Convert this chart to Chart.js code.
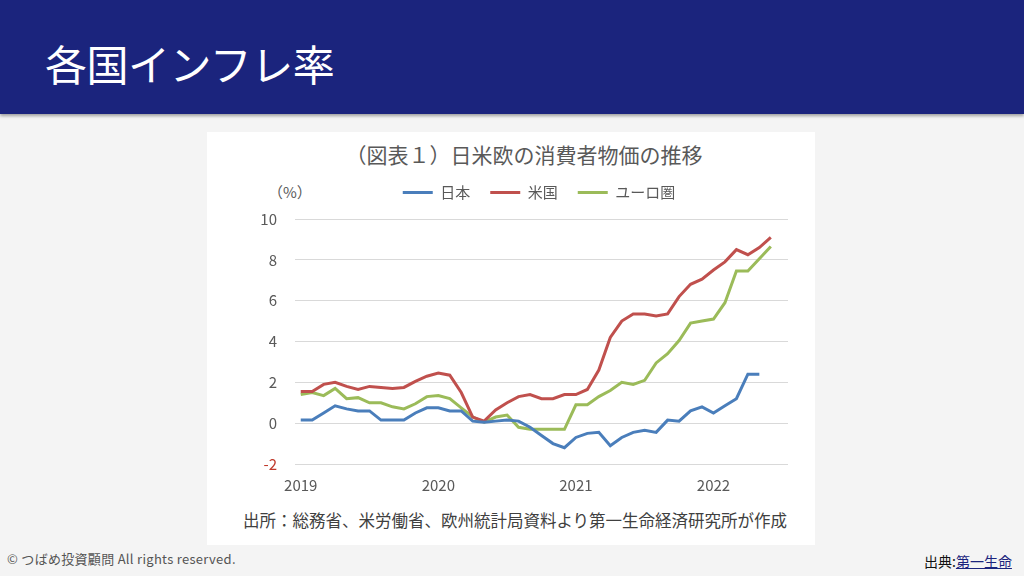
<!DOCTYPE html>
<html lang="ja">
<head>
<meta charset="utf-8">
<script src="https://cdn.jsdelivr.net/npm/chart.js@4.4.1/dist/chart.umd.min.js"></script>
<style>
  html, body { margin: 0; padding: 0; }
  body { width: 1024px; height: 576px; background: #f4f4f4; position: relative; overflow: hidden;
         font-family: "Noto Sans CJK JP", "Noto Sans", sans-serif; }
  #bar { position: absolute; left: 0; top: 0; width: 1024px; height: 114px; background: #1b247d;
         box-shadow: 0 2px 3px rgba(0,0,0,0.35); }
  #bar h1 { position: absolute; left: 45px; top: 42px; margin: 0; font-size: 42px; font-weight: 400;
            color: #fff; line-height: 1; letter-spacing: -0.5px; }
  #card { position: absolute; left: 207px; top: 132px; width: 608px; height: 413px; background: #fff; }
  #ctitle { position: absolute; left: 220px; width: 608px; top: 140px; text-align: center; font-size: 21px;
            color: #595959; line-height: 28px; }
  #unit { position: absolute; left: 268px; top: 181px; font-size: 15px; color: #595959; line-height: 22px; }
  #note { position: absolute; left: 0; width: 1030px; top: 508px; text-align: center; font-size: 16.5px;
          color: #404040; line-height: 24px; }
  #wrap { position: absolute; left: 240px; top: 165px; width: 599px; height: 341px; }
  #copy { position: absolute; left: 7px; top: 550px; font-size: 13px; color: #555; line-height: 18px;
          letter-spacing: 0.3px; }
  #src { position: absolute; left: 924px; top: 551px; font-size: 14px; color: #111; line-height: 20px; }
  #src a { color: #1b247d; text-decoration: underline; }
</style>
</head>
<body>
<div id="bar"><h1>各国インフレ率</h1></div>
<div id="card"></div>
<div id="ctitle">（図表１）日米欧の消費者物価の推移</div>
<div id="unit">（%）</div>
<div id="wrap"><canvas id="c"></canvas></div>
<div id="note">出所：総務省、米労働省、欧州統計局資料より第一生命経済研究所が作成</div>
<div id="copy">© つばめ投資顧問 All rights reserved.</div>
<div id="src">出典:<a>第一生命</a></div>
<script>
// Monthly categories Jan 2019 - Jul 2022
const months = [
  '2019/1','2019/2','2019/3','2019/4','2019/5','2019/6','2019/7','2019/8','2019/9','2019/10','2019/11','2019/12',
  '2020/1','2020/2','2020/3','2020/4','2020/5','2020/6','2020/7','2020/8','2020/9','2020/10','2020/11','2020/12',
  '2021/1','2021/2','2021/3','2021/4','2021/5','2021/6','2021/7','2021/8','2021/9','2021/10','2021/11','2021/12',
  '2022/1','2022/2','2022/3','2022/4','2022/5','2022/6','2022/7'
];
const seriesNames = ['日本', '米国', 'ユーロ圏'];
const japan = [
  0.15, 0.15, 0.5, 0.85, 0.7, 0.6, 0.6, 0.15, 0.15, 0.15, 0.5, 0.75,
  0.75, 0.6, 0.6, 0.1, 0.05, 0.1, 0.15, 0.1, -0.2, -0.6, -1.0, -1.2,
  -0.7, -0.5, -0.45, -1.1, -0.7, -0.45, -0.35, -0.45, 0.15, 0.1, 0.6, 0.8,
  0.5, 0.85, 1.2, 2.4, 2.4, null, null
];
const usa = [
  1.55, 1.55, 1.9, 2.0, 1.8, 1.65, 1.8, 1.75, 1.7, 1.75, 2.05, 2.3,
  2.45, 2.35, 1.5, 0.3, 0.1, 0.65, 1.0, 1.3, 1.4, 1.2, 1.2, 1.4,
  1.4, 1.65, 2.6, 4.2, 5.0, 5.35, 5.35, 5.25, 5.35, 6.2, 6.8, 7.05,
  7.5, 7.9, 8.5, 8.25, 8.6, 9.1, null
];
const euro = [
  1.4, 1.5, 1.35, 1.7, 1.2, 1.25, 1.0, 1.0, 0.8, 0.7, 0.95, 1.3,
  1.35, 1.2, 0.75, 0.3, 0.05, 0.3, 0.4, -0.2, -0.3, -0.3, -0.3, -0.3,
  0.9, 0.9, 1.3, 1.6, 2.0, 1.9, 2.1, 2.95, 3.4, 4.05, 4.9, 5.0,
  5.1, 5.9, 7.45, 7.45, 8.05, 8.65, null
];
const yTicks = [-2, 0, 2, 4, 6, 8, 10];
const colors = ['#4a7ebb', '#c0504d', '#9bbb59'];

const font = { family: '"Noto Sans CJK JP", "Noto Sans", sans-serif', size: 15 };
const legendTweak = {
  id: 'legendTweak',
  beforeInit(chart) {
    const fit = chart.legend.fit;
    chart.legend.fit = function () { fit.bind(chart.legend)(); this.height += 9; };
  },
  afterLayout(chart) {
    chart.legend.left += 25;
    chart.legend.right += 25;
  }
};
new Chart(document.getElementById('c'), {
  type: 'line',
  data: {
    labels: months,
    datasets: [japan, usa, euro].map((d, i) => ({
      label: seriesNames[i], data: d, borderColor: colors[i], backgroundColor: colors[i],
      borderWidth: 3, pointRadius: 0, tension: 0, spanGaps: false
    }))
  },
  plugins: [legendTweak],
  options: {
    responsive: true, maintainAspectRatio: false, animation: false,
    layout: { padding: { right: 51, top: 0, bottom: 0 } },
    plugins: {
      legend: {
        position: 'top',
        labels: { usePointStyle: true, pointStyle: 'line', pointStyleWidth: 30, boxHeight: 3,
                  color: '#595959', font: font, padding: 20 }
      },
      tooltip: { enabled: false }
    },
    scales: {
      x: {
        offset: true,
        grid: { display: false, drawTicks: false },
        border: { display: false },
        ticks: {
          autoSkip: false, maxRotation: 0, color: '#595959', font: font, padding: 12,
          callback: function (v, i) { const l = months[i]; return l.endsWith('/1') ? l.split('/')[0] : ''; }
        }
      },
      y: {
        min: yTicks[0], max: yTicks[yTicks.length - 1],
        afterBuildTicks: s => { s.ticks = yTicks.map(v => ({ value: v })); },
        afterFit: s => { s.width = 55; },
        grid: { color: '#d9d9d9', lineWidth: 1, drawTicks: false },
        border: { display: false },
        ticks: {
          color: ctx => ctx.tick.value < 0 ? '#c0392b' : '#595959',
          font: font, padding: 18
        }
      }
    }
  }
});
</script>
</body>
</html>
